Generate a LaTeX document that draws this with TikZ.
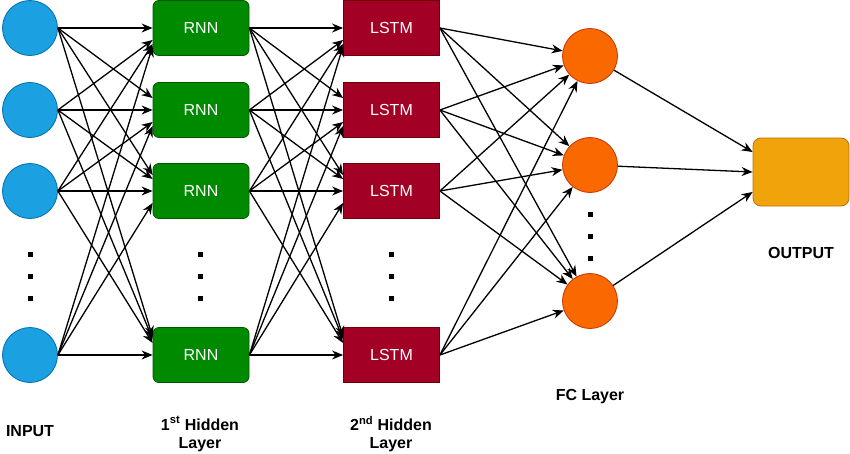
\documentclass[tikz,border=0pt]{standalone}
\usepackage{fontspec}
\setmainfont{Liberation Sans}
\usetikzlibrary{arrows.meta}

\definecolor{inblue}{HTML}{1BA1E2}
\definecolor{inblueline}{HTML}{006EAF}
\definecolor{rnngreen}{HTML}{008A00}
\definecolor{rnnline}{HTML}{005700}
\definecolor{lstmred}{HTML}{A20025}
\definecolor{lstmline}{HTML}{6F0000}
\definecolor{fcorange}{HTML}{FA6800}
\definecolor{fcline}{HTML}{C73500}
\definecolor{outamber}{HTML}{F0A30A}
\definecolor{outline}{HTML}{BD7000}

\begin{document}
\begin{tikzpicture}[x=1pt,y=-1pt,
  link/.style={-{Stealth[length=11pt,width=9pt]},line width=1.3pt},
  neuron/.style={circle,minimum size=55pt,inner sep=0pt,line width=0.8pt},
  cell/.style={minimum width=96pt,minimum height=55pt,inner sep=0pt,line width=0.8pt,
    text=white,font=\fontsize{16}{18}\selectfont},
  layertext/.style={font=\bfseries\fontsize{16}{18}\selectfont,align=center}]

  \useasboundingbox (0,0) rectangle (850,453);

  % input layer
  \node[neuron,fill=inblue,draw=inblueline] (in1) at (30,28) {};
  \node[neuron,fill=inblue,draw=inblueline] (in2) at (30,110) {};
  \node[neuron,fill=inblue,draw=inblueline] (in3) at (30,191) {};
  \node[neuron,fill=inblue,draw=inblueline] (in4) at (30,355) {};

  % 1st hidden layer
  \node[cell,rounded corners=6pt,fill=rnngreen,draw=rnnline] (rnn1) at (201,28) {RNN};
  \node[cell,rounded corners=6pt,fill=rnngreen,draw=rnnline] (rnn2) at (201,110) {RNN};
  \node[cell,rounded corners=6pt,fill=rnngreen,draw=rnnline] (rnn3) at (201,191) {RNN};
  \node[cell,rounded corners=6pt,fill=rnngreen,draw=rnnline] (rnn4) at (201,355) {RNN};

  % 2nd hidden layer
  \node[cell,fill=lstmred,draw=lstmline] (lstm1) at (391.5,28) {LSTM};
  \node[cell,fill=lstmred,draw=lstmline] (lstm2) at (391.5,110) {LSTM};
  \node[cell,fill=lstmred,draw=lstmline] (lstm3) at (391.5,191) {LSTM};
  \node[cell,fill=lstmred,draw=lstmline] (lstm4) at (391.5,355) {LSTM};

  % FC layer and output
  \node[neuron,fill=fcorange,draw=fcline] (fc1) at (590,56) {};
  \node[neuron,fill=fcorange,draw=fcline] (fc2) at (590,165) {};
  \node[neuron,fill=fcorange,draw=fcline] (fc3) at (590,301) {};
  \node[cell,minimum height=68pt,rounded corners=8pt,fill=outamber,draw=outline] (out) at (801,172) {};

  % dots
  \foreach \x in {30,200,391}
    \foreach \y in {254,276,298}
      \fill (\x-2.5,\y-2.5) rectangle ++(5,5);
  \foreach \y in {214,236,258}
    \fill (587.5,\y-2.5) rectangle ++(5,5);

  % connections
  \foreach \s in {1,...,4}
    \foreach \t in {1,...,4} {
      \pgfmathsetmacro\off{-24*(\s-\t)/(abs(\s-\t)+1)}
      \draw[link] (in\s.east) -- ([yshift=\off pt]rnn\t.west);
      \draw[link] (rnn\s.east) -- ([yshift=\off pt]lstm\t.west);
    }
  \foreach \s in {1,...,4}
    \foreach \t in {1,2,3}
      \draw[link] (lstm\s.east) -- (fc\t);
  \draw[link] (fc1) -- ([yshift=20pt]out.west);
  \draw[link] (fc2) -- (out.west);
  \draw[link] (fc3) -- ([yshift=-20pt]out.west);

  % labels
  \node[layertext] (inlabel) at (30,431) {INPUT};
  \node[layertext] (rnnlabel) at (200,434) {1\textsuperscript{st} Hidden\\Layer};
  \node[layertext] (lstmlabel) at (391,434) {2\textsuperscript{nd} Hidden\\Layer};
  \node[layertext] (fclabel) at (590,397) {FC Layer};
  \node[layertext] (outlabel) at (801,253) {OUTPUT};

\end{tikzpicture}
\end{document}
